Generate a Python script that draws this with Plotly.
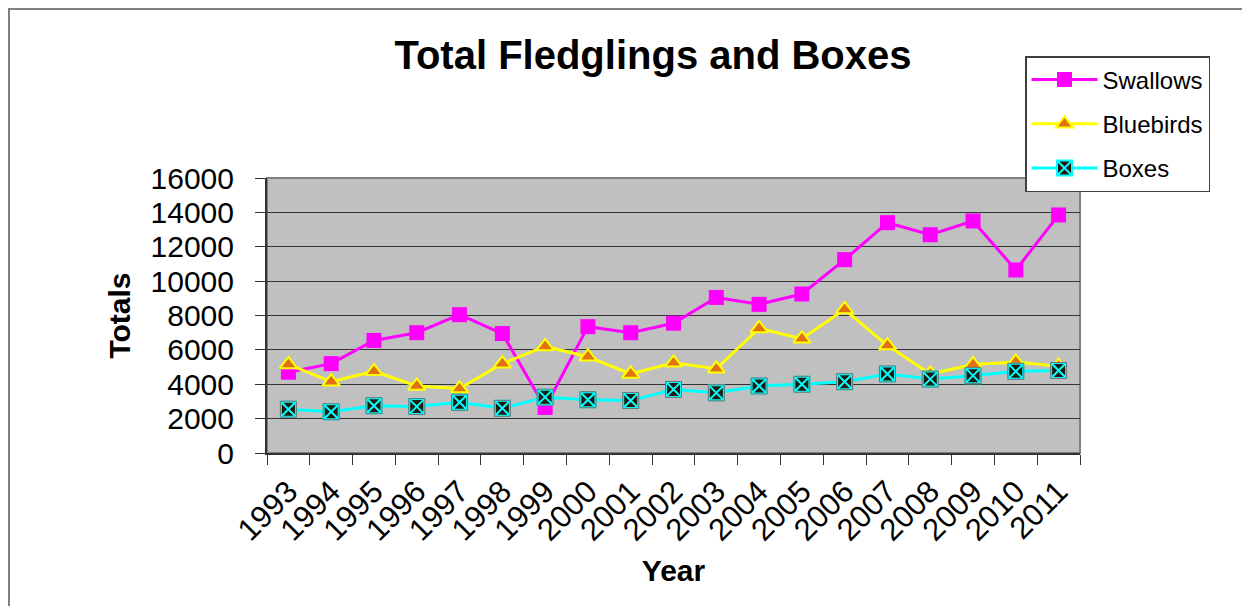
import plotly.graph_objects as go

years = [str(y) for y in range(1993, 2012)]

swallows = [4700, 5200, 6550, 7000, 8050, 6950, 2650, 7350, 7000, 7550,
            9050, 8650, 9250, 11250, 13400, 12700, 13500, 10650, 13850]
bluebirds = [5150, 4150, 4750, 3900, 3750, 5200, 6200, 5600, 4600, 5250,
             4900, 7250, 6650, 8350, 6250, 4600, 5150, 5300, 5050]
boxes = [2550, 2400, 2750, 2700, 2950, 2600, 3250, 3100, 3050, 3700,
         3500, 3900, 4000, 4150, 4600, 4300, 4500, 4750, 4800]

y_ticks = list(range(0, 16001, 2000))

FONT = "Liberation Sans, Arial, sans-serif"

# page body adds an 8px margin, so everything is placed 8px up/left
OFF = 8
L, R, T, B = 267 - OFF, 1080 - OFF, 178 - OFF, 453 - OFF
W, H = 1250, 606
pw, ph = R - L, B - T


def px_x(x):
    return (x - OFF - L) / pw


def px_y(y):
    return (B - (y - OFF)) / ph


fig = go.Figure()

fig.add_trace(go.Scatter(
    x=years, y=swallows, name="Swallows", mode="lines+markers",
    legendgroup="a",
    line=dict(color="#FF00FF", width=3),
    marker=dict(symbol="square", size=15, color="#FF00FF",
                line=dict(color="#FF00FF", width=0)),
))

fig.add_trace(go.Scatter(
    x=years, y=bluebirds, name="Bluebirds", mode="lines+markers",
    legendgroup="b",
    line=dict(color="#FFFF00", width=3),
    marker=dict(symbol="triangle-up", size=15, color="#E07010",
                line=dict(color="#FFFF00", width=2)),
))

fig.add_trace(go.Scatter(
    x=years, y=boxes, name="Boxes", mode="lines+markers",
    legendgroup="c",
    line=dict(color="#00FFFF", width=3),
    marker=dict(symbol="square-x", size=15, color="#1C1C10",
                line=dict(color="#00FFFF", width=2)),
))

# grey outline of the squares, no legend entry
fig.add_trace(go.Scatter(
    x=years, y=boxes, mode="markers", showlegend=False, hoverinfo="skip",
    marker=dict(symbol="square-open", size=16, color="#707070",
                line=dict(color="#707070", width=1)),
))

fig.update_layout(
    width=W, height=H,
    margin=dict(l=L, r=W - R, t=T, b=H - B),
    paper_bgcolor="white",
    plot_bgcolor="#C0C0C0",
    font=dict(family=FONT, color="black", size=30),
    title=dict(
        text="<b>Total Fledglings and Boxes</b>",
        font=dict(family=FONT, size=40, color="black"),
        x=(653 - OFF) / W, xanchor="center",
        y=1 - (41 - OFF) / H, yanchor="top",
    ),
    legend=dict(
        x=px_x(1025), xanchor="left",
        y=px_y(56), yanchor="top",
        bgcolor="white",
        bordercolor="#404040", borderwidth=1.5,
        font=dict(family=FONT, size=24, color="black"),
        traceorder="grouped",
        tracegroupgap=10,
        itemwidth=66,
    ),
    showlegend=True,
)

fig.update_xaxes(
    type="category",
    range=[-0.5, len(years) - 0.5],
    tickangle=-45,
    ticks="outside", ticklen=10, tickcolor="#333333",
    tickson="boundaries",
    showline=True, linecolor="#333333", linewidth=2,
    showgrid=False,
    tickfont=dict(size=31),
    ticklabelstandoff=6,
    title=dict(text="<b>Year</b>", font=dict(size=30), standoff=14),
)

fig.update_yaxes(
    range=[0, 16000],
    tickvals=y_ticks,
    tickformat="d",
    ticks="outside", ticklen=10, tickcolor="#333333",
    showline=True, linecolor="#333333", linewidth=2,
    showgrid=True, gridcolor="#333333", gridwidth=1,
    zeroline=False,
    tickfont=dict(size=30),
    ticklabelstandoff=15,
    title=dict(text="<b>Totals</b>", font=dict(size=30), standoff=11),
)

# grey plot frame on top / right
fig.add_shape(type="rect", xref="paper", yref="paper",
              x0=0, x1=1, y0=0, y1=1, layer="between",
              line=dict(color="#808080", width=2))

# outer chart border (runs off the right and bottom of the picture)
fig.add_shape(type="rect", xref="paper", yref="paper",
              x0=px_x(9), x1=px_x(1270), y0=px_y(630), y1=px_y(9),
              layer="below",
              line=dict(color="#808080", width=2))

fig.write_html("out.html")
